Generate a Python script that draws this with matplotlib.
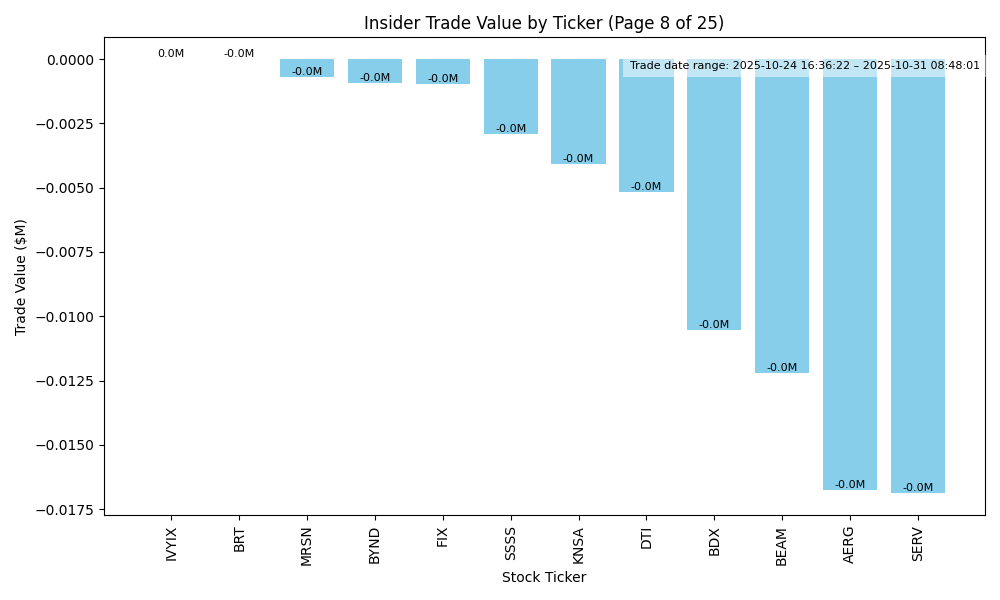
import matplotlib
matplotlib.use("Agg")
import matplotlib.pyplot as plt

tickers = ["IVYIX", "BRT", "MRSN", "BYND", "FIX", "SSSS", "KNSA", "DTI", "BDX", "BEAM", "AERG", "SERV"]
values = [0.000001, -0.000001, -0.00070, -0.00094, -0.00097, -0.00290, -0.00406, -0.00516, -0.01055, -0.01220, -0.01676, -0.01688]
date_range = "Trade date range: 2025-10-24 16:36:22 \u2013 2025-10-31 08:48:01"

fig, ax = plt.subplots(figsize=(10, 6), dpi=100)
bars = ax.bar(tickers, values, color="skyblue")
for b, v in zip(bars, values):
    ax.text(b.get_x() + b.get_width() / 2, v, f"{v:.1f}M", ha="center", va="bottom", fontsize=8)
ax.set_title("Insider Trade Value by Ticker (Page 8 of 25)")
ax.set_xlabel("Stock Ticker")
ax.set_ylabel("Trade Value ($M)")
plt.xticks(rotation=90)
ax.text(0.994, 0.95, date_range, transform=ax.transAxes, ha="right", va="top", fontsize=8,
        bbox=dict(facecolor="white", alpha=0.5, edgecolor="none", pad=4.5))
fig.tight_layout()
fig.savefig("out.png")
